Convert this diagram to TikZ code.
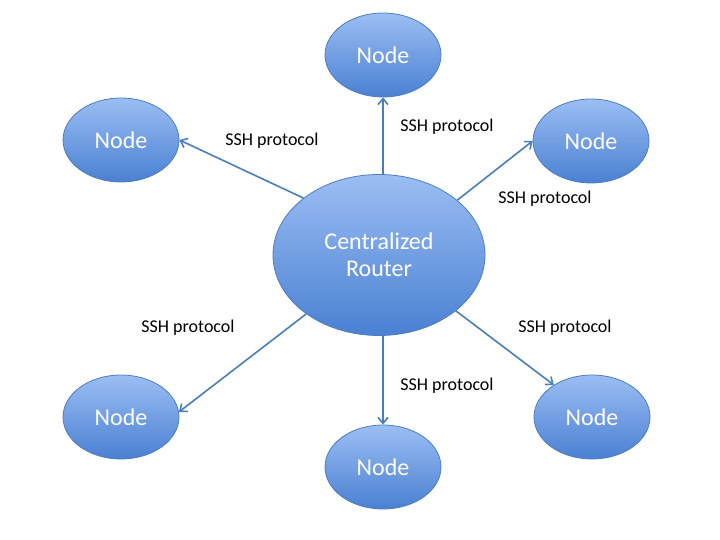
\documentclass[tikz,border=0pt]{standalone}
\usepackage{fontspec}
\setmainfont{Carlito}
\usetikzlibrary{shapes.geometric,arrows.meta}
\definecolor{topc}{HTML}{9BBEF3}
\definecolor{botc}{HTML}{4A80D2}
\definecolor{edgec}{HTML}{4C7DBF}
\definecolor{arrc}{HTML}{4A7EBB}
\tikzset{
  blob/.style={ellipse, draw=edgec, line width=0.8pt, top color=topc, bottom color=botc,
    text=white, font=\fontsize{24}{27}\selectfont, align=center, inner sep=0pt},
  nodeblob/.style={blob, minimum width=116pt, minimum height=84pt},
  link/.style={draw=arrc, line width=1.6pt, -{Straight Barb[length=6pt,width=10pt]}},
  lbl/.style={font=\fontsize{18}{21}\selectfont, text=black}
}
\begin{document}
\begin{tikzpicture}[x=1pt,y=-1pt]
\useasboundingbox (0,0) rectangle (720,540);
\node[blob, minimum width=212pt, minimum height=161pt] (c) at (379,255) {Centralized\\Router};
\node[nodeblob] (n1) at (383,55) {Node};
\node[nodeblob] (n2) at (121,140) {Node};
\node[nodeblob] (n3) at (591,141) {Node};
\node[nodeblob] (n4) at (121,417) {Node};
\node[nodeblob] (n5) at (383,467) {Node};
\node[nodeblob] (n6) at (592,417) {Node};
\draw[link] (n1.south |- c.north) -- (n1.south);
\draw[link] (c.143) -- (n2.east);
\draw[link] (c.35) -- (n3.west);
\draw[link] (c.219) -- (n4.5);
\draw[link] (n5.north |- c.south) -- (n5.north);
\draw[link] (c.324) -- (n6.140);
\node[lbl] (l2) at (272,141) {SSH protocol};
\node[lbl] (l1) at (447,127) {SSH protocol};
\node[lbl] (l3) at (545,199) {SSH protocol};
\node[lbl] (l4) at (188,328) {SSH protocol};
\node[lbl] (l6) at (565,328) {SSH protocol};
\node[lbl] (l5) at (447,386) {SSH protocol};
\end{tikzpicture}
\end{document}
